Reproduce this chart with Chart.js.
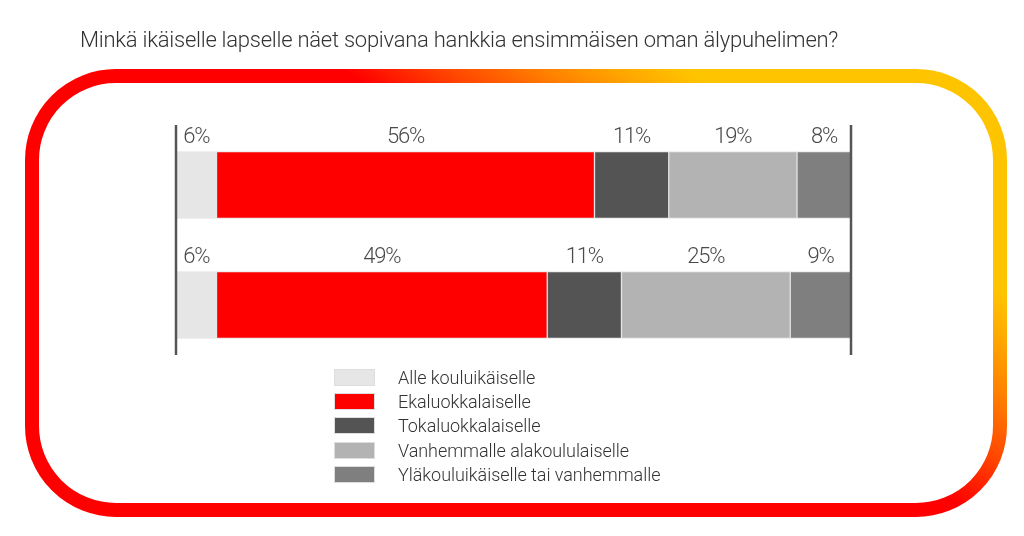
<!DOCTYPE html>
<html>
<head>
<meta charset="utf-8">
<script src="https://cdn.jsdelivr.net/npm/chart.js@4.4.1/dist/chart.umd.min.js"></script>
<style>
  html, body { margin: 0; padding: 0; background: #fff; }
  #wrap { position: relative; width: 1024px; height: 536px; overflow: hidden; }
  #c { position: absolute; left: 0; top: 0; }
  #title { position: absolute; left: 80px; top: 27px; font-family: Roboto, sans-serif; font-weight: 300;
           font-size: 22px; color: #333; letter-spacing: -0.25px; white-space: nowrap; }
  #legend { position: absolute; left: 334px; top: 365px; font-family: Roboto, sans-serif; font-weight: 300;
            font-size: 18px; color: #333; letter-spacing: -0.05px; }
  #legend .row { height: 24.3px; display: flex; align-items: center; }
  #legend .sw { width: 41px; height: 17px; margin-right: 23px; box-sizing: border-box; border: 1px solid #ddd; }
</style>
</head>
<body>
<div id="wrap">
  <canvas id="c" width="1024" height="536"></canvas>
  <div id="title">Minkä ikäiselle lapselle näet sopivana hankkia ensimmäisen oman älypuhelimen?</div>
  <div id="legend"></div>
</div>
<script>
const categories = ["Rivi 1", "Rivi 2"];
const seriesNames = ["Alle kouluikäiselle", "Ekaluokkalaiselle", "Tokaluokkalaiselle", "Vanhemmalle alakoululaiselle", "Yläkouluikäiselle tai vanhemmalle"];
const allekouluikaiselle = [6, 6];
const ekaluokkalaiselle = [56, 49];
const tokaluokkalaiselle = [11, 11];
const vanhemmalleAlakoululaiselle = [19, 25];
const ylakouluikaiselle = [8, 9];
const seriesColors = ["#e6e6e6", "#ff0000", "#545454", "#b3b3b3", "#7f7f7f"];

const seriesValues = [allekouluikaiselle, ekaluokkalaiselle, tokaluokkalaiselle, vanhemmalleAlakoululaiselle, ylakouluikaiselle];

const borderPlugin = {
  id: 'frame',
  beforeDraw(chart) {
    const ctx = chart.ctx;
    ctx.save();
    const u = [0.577, -0.816];
    const g = ctx.createLinearGradient(100 * u[0], 100 * u[1], 400 * u[0], 400 * u[1]);
    g.addColorStop(0, '#ff0000');
    g.addColorStop(0.14, '#ff0000');
    g.addColorStop(0.33, '#ff4400');
    g.addColorStop(0.52, '#ff8000');
    g.addColorStop(0.67, '#ffa800');
    g.addColorStop(0.8, '#ffc400');
    g.addColorStop(1, '#ffc400');
    ctx.strokeStyle = g;
    ctx.lineWidth = 14;
    ctx.beginPath();
    ctx.roundRect(32, 76, 968, 434, 84);
    ctx.stroke();
    ctx.restore();
  }
};

const labelPlugin = {
  id: 'segLabels',
  afterDatasetsDraw(chart) {
    const ctx = chart.ctx;
    ctx.save();
    ctx.font = '300 22px Roboto, sans-serif';
    try { ctx.letterSpacing = '-1.2px'; } catch (e) {}
    ctx.fillStyle = '#4a4a4a';
    ctx.textAlign = 'center';
    ctx.textBaseline = 'alphabetic';
    chart.data.datasets.forEach((ds, i) => {
      const meta = chart.getDatasetMeta(i);
      meta.data.forEach((bar, j) => {
        const p = bar.getProps(['x', 'base', 'y', 'height'], true);
        const cx = (p.x + p.base) / 2;
        ctx.fillText(ds.data[j] + '%', cx, p.y - p.height / 2 - 9);
      });
    });
    // vertical axis lines
    const a = chart.chartArea;
    ctx.strokeStyle = '#555';
    ctx.lineWidth = 2.5;
    ctx.beginPath();
    ctx.moveTo(a.left, a.top); ctx.lineTo(a.left, a.bottom - 10);
    ctx.moveTo(a.right, a.top); ctx.lineTo(a.right, a.bottom - 10);
    ctx.stroke();
    ctx.restore();
  }
};

const chart = new Chart(document.getElementById('c'), {
  type: 'bar',
  data: {
    labels: categories,
    datasets: seriesNames.map((n, i) => ({
      label: n,
      data: seriesValues[i],
      backgroundColor: seriesColors[i],
      borderColor: '#e2e2e2',
      borderWidth: 1,
      borderSkipped: false,
      barThickness: 67
    }))
  },
  options: {
    indexAxis: 'y',
    responsive: false,
    animation: false,
    layout: { padding: { left: 176, right: 173, top: 125, bottom: 171 } },
    scales: {
      x: { stacked: true, min: 0, max: 100, display: false },
      y: { stacked: true, display: false }
    },
    plugins: { legend: { display: false }, title: { display: false }, tooltip: { enabled: false } }
  },
  plugins: [borderPlugin, labelPlugin]
});

const leg = document.getElementById('legend');
chart.data.datasets.forEach(ds => {
  const row = document.createElement('div');
  row.className = 'row';
  const sw = document.createElement('div');
  sw.className = 'sw';
  sw.style.background = ds.backgroundColor;
  const t = document.createElement('span');
  t.textContent = ds.label;
  row.appendChild(sw); row.appendChild(t);
  leg.appendChild(row);
});
</script>
</body>
</html>
